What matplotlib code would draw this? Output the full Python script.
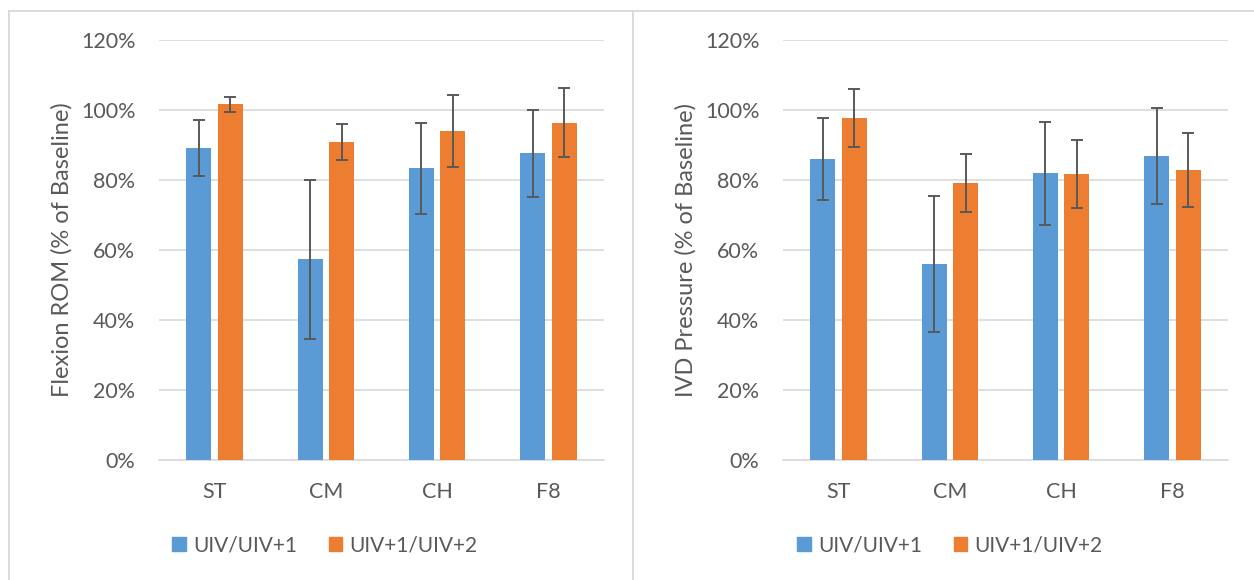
import matplotlib
matplotlib.use("Agg")
import matplotlib.pyplot as plt
import numpy as np
from matplotlib.lines import Line2D
from matplotlib.patches import Patch
from matplotlib.ticker import FuncFormatter

plt.rcParams['font.family'] = ['Lato', 'DejaVu Sans']

categories = ["ST", "CM", "CH", "F8"]
series_names = ["UIV/UIV+1", "UIV+1/UIV+2"]

rom_uiv1 = [89.2, 57.3, 83.3, 87.6]
rom_uiv1_err = [8.0, 22.8, 12.9, 12.4]
rom_uiv2 = [101.6, 90.9, 94.1, 96.4]
rom_uiv2_err = [2.1, 5.2, 10.3, 9.9]

ivd_uiv1 = [86.0, 56.0, 81.9, 86.9]
ivd_uiv1_err = [11.7, 19.4, 14.7, 13.7]
ivd_uiv2 = [97.7, 79.1, 81.6, 82.8]
ivd_uiv2_err = [8.3, 8.3, 9.7, 10.5]

ylabels = ["Flexion ROM (% of Baseline)", "IVD Pressure (% of Baseline)"]

BLUE = "#5B9BD5"
ORANGE = "#ED7D31"
TXT = "#595959"
GRID = "#D9D9D9"

W, H = 1254, 580
fig = plt.figure(figsize=(W / 100, H / 100), dpi=100)

panels = [
    (rom_uiv1, rom_uiv1_err, rom_uiv2, rom_uiv2_err),
    (ivd_uiv1, ivd_uiv1_err, ivd_uiv2, ivd_uiv2_err),
]
ax_left_px = [159, 783]
legend_cx_px = [325, 950]

for i, (v1, e1, v2, e2) in enumerate(panels):
    ax = fig.add_axes([ax_left_px[i] / W, (H - 460) / H, 445 / W, 420 / H])
    x = np.arange(len(categories))
    bw = 0.225
    off = 0.142
    ax.bar(x - off, v1, bw, color=BLUE, zorder=3)
    ax.bar(x + off, v2, bw, color=ORANGE, zorder=3)
    ekw = dict(fmt="none", ecolor=TXT, elinewidth=1.4, capsize=4, capthick=1.4, zorder=4)
    ax.errorbar(x - off, v1, yerr=e1, **ekw)
    ax.errorbar(x + off, v2, yerr=e2, **ekw)
    ax.set_xlim(-0.5, len(categories) - 0.5)
    ax.set_ylim(0, 120)
    ax.set_yticks(np.arange(0, 121, 20))
    ax.yaxis.set_major_formatter(FuncFormatter(lambda v, p: f"{int(v)}%"))
    ax.set_xticks(x)
    ax.set_xticklabels(categories)
    ax.grid(axis="y", color=GRID, linewidth=1.2, zorder=0)
    ax.set_axisbelow(True)
    for s in ["top", "right", "left"]:
        ax.spines[s].set_visible(False)
    ax.spines["bottom"].set_color(GRID)
    ax.spines["bottom"].set_linewidth(1.2)
    ax.tick_params(axis="both", length=0, labelsize=15.5, colors=TXT)
    ax.tick_params(axis="y", pad=17)
    ax.tick_params(axis="x", pad=16)
    ax.set_ylabel(ylabels[i], fontsize=17, color=TXT)
    ax.yaxis.set_label_coords(-0.195, 0.5)
    handles = [Patch(color=BLUE), Patch(color=ORANGE)]
    fig.legend(handles, series_names, loc="center",
               bbox_to_anchor=(legend_cx_px[i] / W, 1 - 545 / H),
               ncol=2, frameon=False, fontsize=15, labelcolor=TXT,
               handlelength=0.65, handleheight=0.65, handletextpad=0.35,
               columnspacing=1.5)

# panel borders
bc = "#D9D9D9"
def fl(x0, y0, x1, y1):
    fig.add_artist(Line2D([x0 / W, x1 / W], [1 - y0 / H, 1 - y1 / H],
                          color=bc, linewidth=1.3, transform=fig.transFigure))
fl(8.5, 11, W, 11)
fl(8.5, 11, 8.5, H)
fl(633, 11, 633, H)

fig.savefig("out.png", dpi=100, facecolor="white")
